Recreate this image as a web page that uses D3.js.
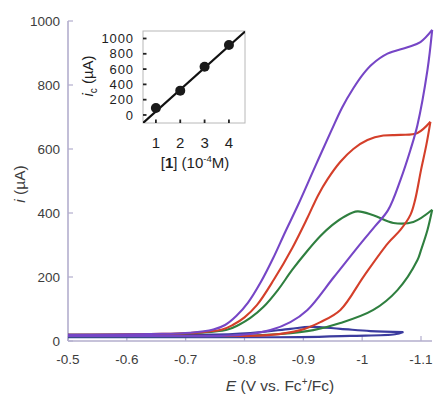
<!DOCTYPE html>
<html>
<head>
<meta charset="utf-8">
<script src="https://cdn.jsdelivr.net/npm/d3@7"></script>
<style>
  html, body { margin: 0; padding: 0; background: #fff; }
  svg { display: block; font-family: "Liberation Sans", Arial, sans-serif; }
</style>
</head>
<body>
<svg id="chart" width="437" height="397"></svg>
<script>
// ---------- main chart data (E in V vs Fc+/Fc, i in µA) ----------
const xTicks = [-0.5, -0.6, -0.7, -0.8, -0.9, -1.0, -1.1];
const xTickLabels = ["-0.5", "-0.6", "-0.7", "-0.8", "-0.9", "-1", "-1.1"];
const yTicks = [0, 200, 400, 600, 800, 1000];
const yTickLabels = ["0", "200", "400", "600", "800", "1000"];

const purpleForward = [[-0.5, 19], [-0.64, 22], [-0.708, 26], [-0.747, 36], [-0.767, 50],
  [-0.786, 78], [-0.806, 120], [-0.828, 185], [-0.849, 260], [-0.869, 340], [-0.891, 425],
  [-0.92, 545], [-0.947, 655], [-0.966, 730], [-0.985, 790], [-1.002, 835], [-1.017, 865],
  [-1.043, 898], [-1.077, 918], [-1.099, 934], [-1.119, 972]];
const purpleReverse = [[-1.119, 972], [-1.111, 847], [-1.094, 675], [-1.082, 597], [-1.065, 503],
  [-1.044, 409], [-1.022, 359], [-0.998, 306], [-0.952, 200], [-0.907, 97], [-0.878, 59],
  [-0.844, 34], [-0.81, 22], [-0.759, 16], [-0.64, 16], [-0.5, 16]];

const redForward = [[-0.5, 19], [-0.64, 22], [-0.708, 25], [-0.762, 36], [-0.78, 50],
  [-0.8, 74], [-0.821, 112], [-0.85, 192], [-0.881, 290], [-0.907, 385], [-0.925, 455],
  [-0.941, 505], [-0.963, 560], [-0.985, 600], [-1.009, 628], [-1.036, 642], [-1.065, 644],
  [-1.094, 650], [-1.116, 685]];
const redReverse = [[-1.116, 685], [-1.109, 612], [-1.1, 534], [-1.09, 441], [-1.082, 394],
  [-1.065, 347], [-1.044, 306], [-1.003, 203], [-0.963, 97], [-0.929, 59], [-0.895, 34],
  [-0.844, 19], [-0.7, 16], [-0.5, 16]];

const greenForward = [[-0.5, 19], [-0.64, 21], [-0.708, 24], [-0.77, 35], [-0.79, 50],
  [-0.81, 72], [-0.832, 106], [-0.857, 160], [-0.881, 222], [-0.907, 282], [-0.929, 328],
  [-0.949, 362], [-0.971, 390], [-0.992, 405], [-1.019, 393], [-1.053, 369], [-1.087, 372],
  [-1.119, 410]];
const greenReverse = [[-1.119, 410], [-1.111, 347], [-1.1, 284], [-1.094, 253], [-1.06, 159],
  [-1.019, 97], [-0.963, 56], [-0.917, 34], [-0.861, 22], [-0.79, 16], [-0.64, 15], [-0.5, 15]];

const blueForward = [[-0.5, 19], [-0.725, 19], [-0.81, 25], [-0.878, 38], [-0.912, 44],
  [-0.963, 38], [-1.014, 31], [-1.07, 28]];
const blueReverse = [[-1.07, 28], [-1.056, 21], [-0.98, 16], [-0.895, 12], [-0.7, 12], [-0.5, 12]];

// ---------- inset data ----------
const insetConc = [1, 2, 3, 4];           // [1] (10^-4 M)
const insetIc = [90, 318, 631, 915];      // i_c (µA)
const insetFitX = [0.47, 4.66];
const insetFitY = [-105, 1090];
const insetXTicks = [1, 2, 3, 4];
const insetYTicks = [0, 200, 400, 600, 800, 1000];

// ---------- drawing ----------
const svg = d3.select("#chart");
const x = d3.scaleLinear().domain([-0.5, -1.1187]).range([68, 432]);
const y = d3.scaleLinear().domain([0, 1000]).range([341, 21]);
const axisColor = "#b3aecd";
const labelColor = "#3d3d3d";

svg.append("line").attr("x1", 68).attr("x2", 68).attr("y1", y(1000)).attr("y2", y(0))
  .attr("stroke", axisColor).attr("stroke-width", 1.6);
svg.append("line").attr("x1", 68).attr("x2", 432).attr("y1", y(0)).attr("y2", y(0))
  .attr("stroke", axisColor).attr("stroke-width", 1.6);

yTicks.forEach((t, k) => {
  svg.append("line").attr("x1", 68).attr("x2", 73).attr("y1", y(t)).attr("y2", y(t))
    .attr("stroke", axisColor).attr("stroke-width", 1.2);
  svg.append("text").attr("x", 60).attr("y", y(t)).attr("dy", "0.35em")
    .attr("text-anchor", "end").attr("font-size", 13.5).attr("fill", labelColor)
    .text(yTickLabels[k]);
});
xTicks.forEach((t, k) => {
  svg.append("line").attr("x1", x(t)).attr("x2", x(t)).attr("y1", y(0)).attr("y2", y(0) - 5)
    .attr("stroke", axisColor).attr("stroke-width", 1.2);
  svg.append("text").attr("x", x(t)).attr("y", 359).attr("dy", "0.35em")
    .attr("text-anchor", "middle").attr("font-size", 13.5).attr("fill", labelColor)
    .text(xTickLabels[k]);
});

const xt = svg.append("text").attr("x", 280).attr("y", 391).attr("text-anchor", "middle")
  .attr("font-size", 15.5).attr("fill", labelColor);
xt.append("tspan").attr("font-style", "italic").text("E");
xt.append("tspan").text(" (V vs. Fc");
xt.append("tspan").attr("dy", -6).attr("font-size", 10).text("+");
xt.append("tspan").attr("dy", 6).text("/Fc)");

const yt = svg.append("text").attr("transform", "translate(25,184) rotate(-90)")
  .attr("text-anchor", "middle").attr("font-size", 15.5).attr("fill", labelColor);
yt.append("tspan").attr("font-style", "italic").text("i");
yt.append("tspan").text(" (µA)");

const line = d3.line().x(d => x(d[0])).y(d => y(d[1])).curve(d3.curveCatmullRom.alpha(0.5));
const series = [
  { f: blueForward, r: blueReverse, c: "#3b3b9e" },
  { f: greenForward, r: greenReverse, c: "#2f7f3f" },
  { f: redForward, r: redReverse, c: "#d43f2a" },
  { f: purpleForward, r: purpleReverse, c: "#7646c6" }
];
series.forEach(s => {
  [s.f, s.r].forEach(arr => {
    svg.append("path").attr("d", line(arr)).attr("fill", "none")
      .attr("stroke", s.c).attr("stroke-width", 2.1).attr("stroke-linejoin", "round");
  });
});

// ---------- inset ----------
const ix = d3.scaleLinear().domain([0.47, 4.66]).range([143, 245]);
const iy = d3.scaleLinear().domain([-105, 1098]).range([123, 31]);
const g = svg.append("g");
g.append("defs").append("clipPath").attr("id", "insetClip")
  .append("rect").attr("x", 143).attr("y", 31).attr("width", 102).attr("height", 92);
g.append("rect").attr("x", 143).attr("y", 31).attr("width", 102).attr("height", 92)
  .attr("fill", "#fff").attr("stroke", "#b8b8b8").attr("stroke-width", 1);

insetYTicks.forEach(t => {
  g.append("line").attr("x1", 143).attr("x2", 146.5).attr("y1", iy(t)).attr("y2", iy(t))
    .attr("stroke", "#222").attr("stroke-width", 1.8);
  g.append("text").attr("x", 134).attr("y", iy(t)).attr("dy", "0.36em")
    .attr("text-anchor", "end").attr("font-size", 13).attr("letter-spacing", 0.9)
    .attr("fill", "#1e1e1e").text(t);
});
insetXTicks.forEach(t => {
  g.append("line").attr("x1", ix(t)).attr("x2", ix(t)).attr("y1", 123).attr("y2", 119.5)
    .attr("stroke", "#222").attr("stroke-width", 1.8);
  g.append("text").attr("x", ix(t)).attr("y", 143).attr("dy", "0.36em")
    .attr("text-anchor", "middle").attr("font-size", 15).attr("fill", "#1e1e1e").text(t);
});

g.append("line").attr("clip-path", "url(#insetClip)")
  .attr("x1", ix(insetFitX[0])).attr("y1", iy(insetFitY[0]))
  .attr("x2", ix(insetFitX[1])).attr("y2", iy(insetFitY[1]))
  .attr("stroke", "#111").attr("stroke-width", 2.2);
g.selectAll("circle.pt").data(insetConc).enter().append("circle")
  .attr("cx", d => ix(d)).attr("cy", (d, k) => iy(insetIc[k])).attr("r", 5)
  .attr("fill", "#1a1a1a");

const ixl = g.append("text").attr("x", 195).attr("y", 168).attr("text-anchor", "middle")
  .attr("font-size", 15).attr("fill", "#1e1e1e");
ixl.append("tspan").text("[");
ixl.append("tspan").attr("font-weight", "bold").text("1");
ixl.append("tspan").text("] (10");
ixl.append("tspan").attr("dy", -6).attr("font-size", 9.5).text("-4");
ixl.append("tspan").attr("dy", 6).text("M)");

const iyl = g.append("text").attr("transform", "translate(93,76) rotate(-90)")
  .attr("text-anchor", "middle").attr("font-size", 15).attr("fill", "#1e1e1e");
iyl.append("tspan").attr("font-style", "italic").text("i");
iyl.append("tspan").attr("dy", 4).attr("font-size", 10).text("c");
iyl.append("tspan").attr("dy", -4).text(" (µA)");
</script>
</body>
</html>
